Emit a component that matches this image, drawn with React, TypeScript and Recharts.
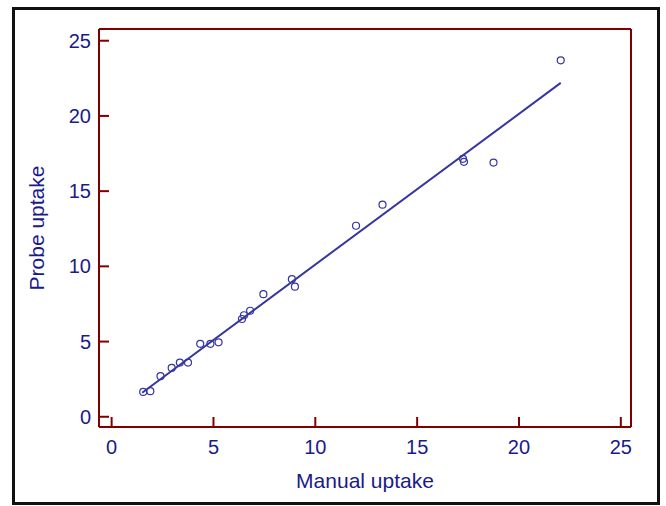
import React from "react";
import { ScatterChart, Scatter, XAxis, YAxis } from "recharts";

// measured points (manual vs probe uptake)
const manualUptake = [1.55, 1.9, 2.4, 2.95, 3.35, 3.75, 4.35, 4.85, 5.25, 6.4, 6.5, 6.8, 7.45, 8.85, 9.0, 12.0, 13.3, 17.25, 17.3, 18.75, 22.05];
const probeUptake = [1.65, 1.7, 2.7, 3.25, 3.6, 3.6, 4.85, 4.85, 4.95, 6.5, 6.75, 7.05, 8.15, 9.15, 8.65, 12.7, 14.1, 17.15, 16.95, 16.9, 23.7];

// fitted line end points
const fitX = [1.5, 22.05];
const fitY = [1.6, 22.2];

const ticks = [0, 5, 10, 15, 20, 25];

const points = manualUptake.map((x, i) => ({ x, y: probeUptake[i] }));
const fit = fitX.map((x, i) => ({ x, y: fitY[i] }));

const RED = "#800000";
const NAVY = "#1a1a8a";
const BLUE = "#3636a0";
const FONT = "'Liberation Sans', Arial, sans-serif";

const xDomain: [number, number] = [-0.62, 25.5];
const yDomain: [number, number] = [-0.68, 25.78];

const OpenCircle = (props: any) => {
  const { cx, cy } = props;
  if (cx == null || cy == null) return null;
  return <circle cx={cx} cy={cy} r={3.5} fill="none" stroke={BLUE} strokeWidth={1.2} />;
};

export default function App() {
  return (
    <div style={{ position: "absolute", left: 0, top: 0, width: 666, height: 506, background: "#fff" }}>
      <div
        style={{
          position: "absolute",
          left: 12,
          top: 7,
          width: 648,
          height: 498,
          border: "3px solid #111",
          boxSizing: "border-box",
        }}
      />
      <div style={{ position: "absolute", left: 0, top: 0 }}>
        <ScatterChart width={666} height={506} margin={{ top: 28, right: 34, bottom: 0, left: 0 }}>
          <XAxis
            dataKey="x"
            type="number"
            domain={xDomain}
            ticks={ticks}
            allowDataOverflow
            height={79}
            tickSize={-10}
            tickMargin={23}
            axisLine={{ stroke: RED, strokeWidth: 2 }}
            tickLine={{ stroke: RED, strokeWidth: 2 }}
            tick={{ fill: NAVY, fontSize: 20, fontFamily: FONT }}
            label={{
              content: (p: any) => {
                const vb = p.viewBox || {};
                return (
                  <text x={vb.x + vb.width / 2} y={488} textAnchor="middle" fill={NAVY} fontSize={21} fontFamily={FONT}>
                    Manual uptake
                  </text>
                );
              },
            }}
          />
          <YAxis
            dataKey="y"
            type="number"
            domain={yDomain}
            ticks={ticks}
            allowDataOverflow
            width={99}
            tickSize={-10}
            tickMargin={18}
            axisLine={{ stroke: RED, strokeWidth: 2 }}
            tickLine={{ stroke: RED, strokeWidth: 2 }}
            tick={{ fill: NAVY, fontSize: 20, fontFamily: FONT }}
            label={{
              content: (p: any) => {
                const vb = p.viewBox || {};
                const cy = vb.y + vb.height / 2;
                return (
                  <text
                    x={36}
                    y={cy}
                    textAnchor="middle"
                    dominantBaseline="central"
                    transform={`rotate(-90 36 ${cy})`}
                    fill={NAVY}
                    fontSize={21}
                    fontFamily={FONT}
                  >
                    Probe uptake
                  </text>
                );
              },
            }}
          />
          <XAxis
            xAxisId="top"
            orientation="top"
            dataKey="x"
            type="number"
            domain={xDomain}
            allowDataOverflow
            height={1}
            tick={false}
            tickLine={false}
            axisLine={{ stroke: RED, strokeWidth: 2 }}
          />
          <YAxis
            yAxisId="right"
            orientation="right"
            dataKey="y"
            type="number"
            domain={yDomain}
            allowDataOverflow
            width={1}
            tick={false}
            tickLine={false}
            axisLine={{ stroke: RED, strokeWidth: 2 }}
          />
          <Scatter
            data={fit}
            xAxisId="top"
            yAxisId="right"
            line={{ stroke: BLUE, strokeWidth: 2 }}
            shape={() => null}
            isAnimationActive={false}
          />
          <Scatter data={points} shape={OpenCircle} isAnimationActive={false} />
        </ScatterChart>
      </div>
    </div>
  );
}
